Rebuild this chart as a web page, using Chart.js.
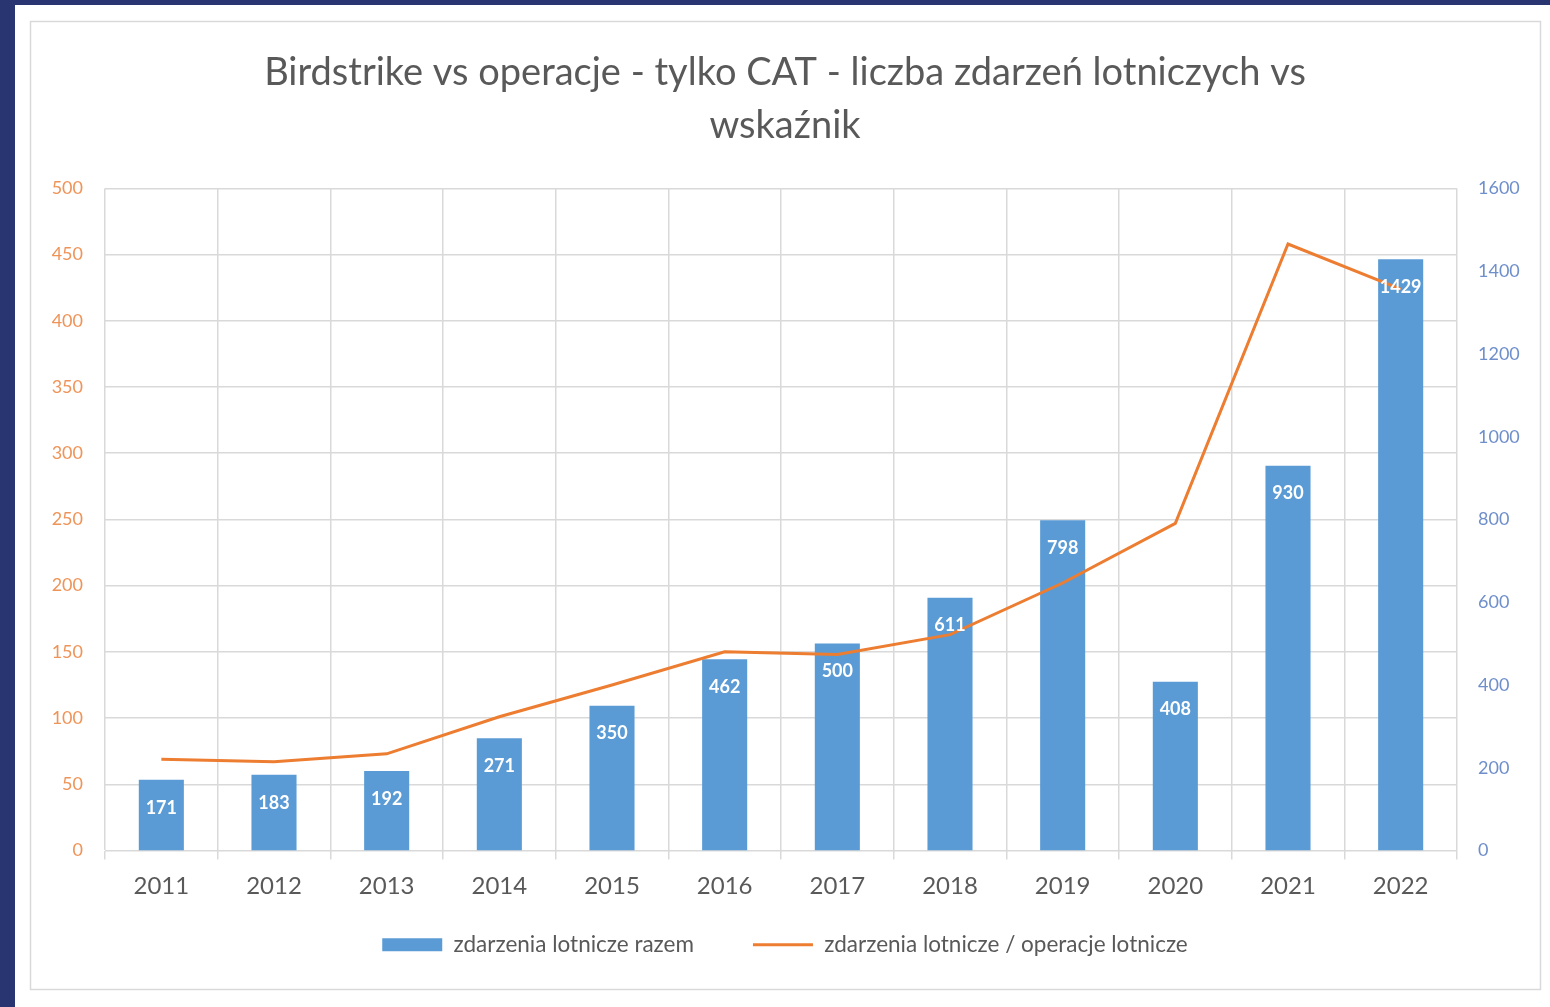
<!DOCTYPE html>
<html>
<head>
<meta charset="utf-8">
<script src="https://cdn.jsdelivr.net/npm/chart.js@4.4.1/dist/chart.umd.min.js"></script>
<style>
  html, body { margin: 0; padding: 0; background: #283571; }
  canvas { display: block; }
</style>
</head>
<body>
<canvas id="c" width="1550" height="1007"></canvas>
<script>
const years = ['2011','2012','2013','2014','2015','2016','2017','2018','2019','2020','2021','2022'];
const eventsTotal = [171, 183, 192, 271, 350, 462, 500, 611, 798, 408, 930, 1429];
const eventsPerOps = [69, 67, 73, 101, 125, 150, 148, 163, 202, 247, 458, 424];
const titleLines = ['Birdstrike vs operacje - tylko CAT - liczba zdarzeń lotniczych vs', 'wskaźnik'];
const seriesNames = ['zdarzenia lotnicze razem', 'zdarzenia lotnicze / operacje lotnicze'];

const FONT = 'Lato, "Open Sans", sans-serif';

const bgPlugin = {
  id: 'bg',
  beforeDraw(chart) {
    const ctx = chart.ctx;
    ctx.save();
    ctx.fillStyle = '#283571';
    ctx.fillRect(0, 0, chart.width, chart.height);
    ctx.fillStyle = '#ffffff';
    ctx.fillRect(15, 5, chart.width - 15, chart.height - 5);
    ctx.strokeStyle = '#D9D9D9';
    ctx.lineWidth = 1.5;
    ctx.strokeRect(30.5, 21.5, 1510, 968);
    ctx.restore();
  }
};

// let the x-axis labels draw below the (thin) layout box reserved for the axis
const xLabelRoomPlugin = {
  id: 'xLabelRoom',
  afterLayout(chart) {
    chart.scales.x.bottom = chart.scales.x.top + 60;
  }
};

const labelPlugin = {
  id: 'barLabels',
  afterDatasetsDraw(chart) {
    const ctx = chart.ctx;
    const meta = chart.getDatasetMeta(0);
    ctx.save();
    ctx.fillStyle = '#ffffff';
    ctx.font = 'bold 18px ' + FONT;
    ctx.textAlign = 'center';
    ctx.textBaseline = 'middle';
    meta.data.forEach((bar, i) => {
      ctx.fillText(String(eventsTotal[i]), bar.x, bar.y + 28);
    });
    ctx.restore();
  }
};

new Chart(document.getElementById('c'), {
  data: {
    labels: years,
    datasets: [
      {
        type: 'bar',
        label: seriesNames[0],
        data: eventsTotal,
        yAxisID: 'yRight',
        backgroundColor: '#5B9BD5',
        borderWidth: 0,
        barPercentage: 0.4,
        categoryPercentage: 1.0,
        pointStyle: 'rect',
        order: 1
      },
      {
        type: 'line',
        label: seriesNames[1],
        data: eventsPerOps,
        yAxisID: 'yLeft',
        borderColor: '#ED7D31',
        backgroundColor: '#ED7D31',
        borderWidth: 3,
        pointRadius: 0,
        pointStyle: 'line',
        tension: 0,
        order: 0
      }
    ]
  },
  options: {
    responsive: false,
    animation: false,
    devicePixelRatio: 1,
    layout: { padding: { left: 40, right: 20, top: 20, bottom: 41 } },
    plugins: {
      tooltip: { enabled: false },
      title: {
        display: true,
        text: titleLines,
        color: '#595959',
        font: { family: FONT, size: 38, weight: 'normal', lineHeight: 1.4 },
        padding: { top: 26, bottom: 36 }
      },
      legend: {
        display: true,
        position: 'bottom',
        labels: {
          usePointStyle: true,
          pointStyleWidth: 60,
          boxHeight: 13,
          padding: 59,
          color: '#595959',
          font: { family: FONT, size: 22.5 },
          sort: (a, b) => a.datasetIndex - b.datasetIndex
        }
      }
    },
    scales: {
      x: {
        offset: true,
        grid: { display: true, offset: true, color: '#D9D9D9', lineWidth: 1.5, tickLength: 9, drawTicks: true },
        border: { display: true, color: '#D9D9D9' },
        ticks: { color: '#595959', font: { family: FONT, size: 24 }, padding: 12, maxRotation: 0, autoSkip: false },
        afterFit(scale) { scale.height = 24; }
      },
      yLeft: {
        type: 'linear',
        position: 'left',
        min: 0, max: 500,
        ticks: { stepSize: 50, color: '#EF9459', font: { family: FONT, size: 18 }, padding: 22,
                 callback: (v) => String(v) },
        grid: { display: true, color: '#D9D9D9', lineWidth: 1.5, drawTicks: false },
        border: { display: false },
        afterFit(scale) { scale.width = 65; }
      },
      yRight: {
        type: 'linear',
        position: 'right',
        min: 0, max: 1600,
        ticks: { stepSize: 200, color: '#6F8FCB', font: { family: FONT, size: 18 }, padding: 21,
                 callback: (v) => String(v) },
        grid: { display: false, drawTicks: false },
        border: { display: false },
        afterFit(scale) { scale.width = 73; }
      }
    }
  },
  plugins: [bgPlugin, xLabelRoomPlugin, labelPlugin]
});
</script>
</body>
</html>
